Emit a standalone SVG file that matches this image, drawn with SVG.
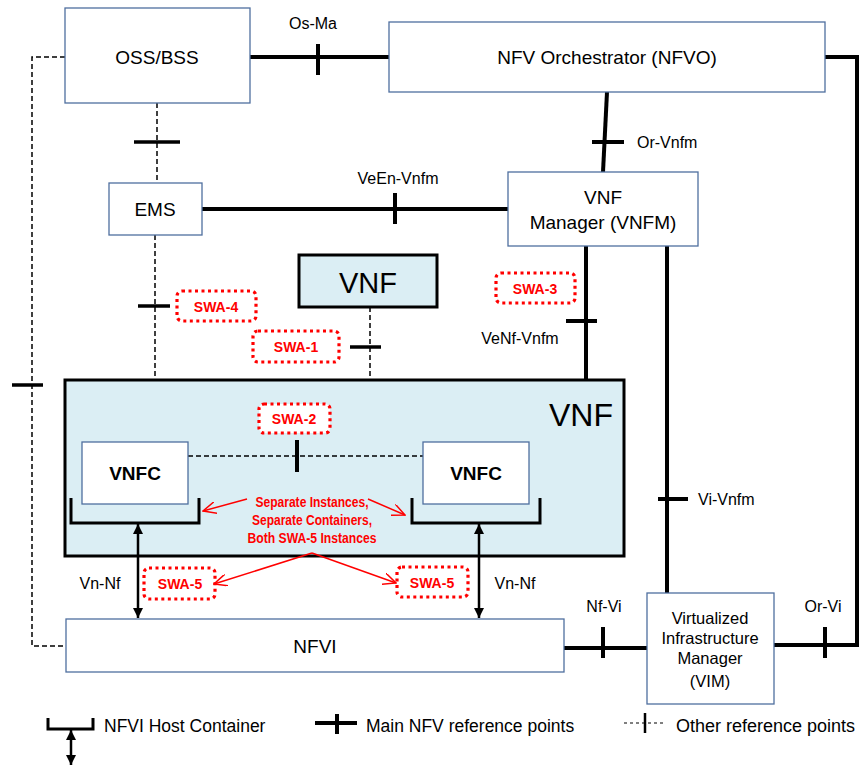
<svg xmlns="http://www.w3.org/2000/svg" width="861" height="766" viewBox="0 0 861 766">
<style>
text{font-family:"Liberation Sans",Arial,sans-serif;fill:#000}
.box{fill:#fff;stroke:#4F6F9F;stroke-width:1.3}
.vnfbox{fill:#DBEEF4;stroke:#000;stroke-width:3}
.main{stroke:#000;stroke-width:4;fill:none}
.tick{stroke:#000;stroke-width:4}
.dash{stroke:#000;stroke-width:1.5;stroke-dasharray:5 3;fill:none}
.swa{fill:#fff;stroke:#FF0000;stroke-width:3.2;stroke-dasharray:3 3.5}
.swat{fill:#FF0000;font-weight:bold;font-size:14px;text-anchor:middle}
.lbl{font-size:16px}
.red{stroke:#FF0000;stroke-width:1.5;fill:none}
.bracket{stroke:#000;stroke-width:3;fill:none}
.arr{stroke:#000;stroke-width:2.5}
</style>
<defs>
<marker id="ah" viewBox="0 0 10 10" refX="10" refY="5" markerWidth="4" markerHeight="4" orient="auto-start-reverse" markerUnits="strokeWidth">
<path d="M0,0 L10,5 L0,10 z" fill="#000"/>
</marker>
<marker id="rh" viewBox="0 0 14 12" refX="13" refY="6" markerWidth="14" markerHeight="12" orient="auto" markerUnits="userSpaceOnUse">
<path d="M0,0 L13,6 L0,12" fill="none" stroke="#FF0000" stroke-width="1.5"/>
</marker>
</defs>

<g id="connectors">
<line class="main" x1="250" y1="57" x2="389" y2="57"/>
<line class="tick" x1="318" y1="44" x2="318" y2="75"/>
<line class="main" x1="607" y1="92" x2="603" y2="172"/>
<line class="tick" x1="592" y1="142" x2="624" y2="142"/>
<line class="main" x1="202" y1="209" x2="508" y2="209"/>
<line class="tick" x1="395" y1="193" x2="395" y2="224"/>
<path class="main" d="M825,57 H857 V645 H774"/>
<line class="tick" x1="825" y1="627" x2="825" y2="658"/>
<line class="main" x1="586" y1="246" x2="586" y2="380"/>
<line class="tick" x1="566" y1="321" x2="597" y2="321"/>
<line class="main" x1="667" y1="246" x2="667" y2="593"/>
<line class="tick" x1="658" y1="499" x2="688" y2="499"/>
<line class="main" x1="564" y1="648" x2="647" y2="648"/>
<line class="tick" x1="603" y1="627" x2="603" y2="658"/>
<line class="dash" x1="157" y1="103" x2="157" y2="183"/>
<line class="tick" x1="134" y1="142" x2="180" y2="142" style="stroke-width:3.5"/>
<line class="dash" x1="155" y1="235" x2="155" y2="380"/>
<line class="tick" x1="138" y1="306" x2="170" y2="306" style="stroke-width:3.5"/>
<path class="dash" d="M65,57 H32 V646 H66"/>
<line class="tick" x1="12" y1="385" x2="43" y2="385" style="stroke-width:3.5"/>
<line class="dash" x1="370" y1="307" x2="370" y2="380"/>
<line class="tick" x1="350" y1="347" x2="381" y2="347" style="stroke-width:3.5"/>
</g>

<g id="oss"><rect class="box" x="65" y="8" width="185" height="95"/><text x="157" y="64" font-size="19" text-anchor="middle">OSS/BSS</text></g>
<g id="nfvo"><rect class="box" x="389" y="22" width="436" height="70"/><text x="607" y="64" font-size="19" text-anchor="middle">NFV Orchestrator (NFVO)</text></g>
<g id="ems"><rect class="box" x="109" y="183" width="93" height="52"/><text x="155" y="216" font-size="19" text-anchor="middle">EMS</text></g>
<g id="vnfm"><rect class="box" x="508" y="172" width="190" height="74"/><text x="603" y="204" font-size="19" text-anchor="middle">VNF</text><text x="603" y="229" font-size="19" text-anchor="middle">Manager (VNFM)</text></g>
<g id="vnf-top"><rect class="vnfbox" x="299" y="255" width="138" height="52"/><text x="368" y="293" font-size="29" text-anchor="middle">VNF</text></g>

<g id="vnf-main">
<rect class="vnfbox" x="65" y="380" width="559" height="176"/>
<text x="613" y="426" font-size="32" text-anchor="end">VNF</text>
<line class="dash" x1="188" y1="456" x2="423" y2="456"/>
<line class="tick" x1="297" y1="440" x2="297" y2="472"/>
</g>
<g id="vnfc1"><rect class="box" x="82" y="442" width="106" height="62"/><text x="135" y="480" font-size="19" font-weight="bold" text-anchor="middle">VNFC</text><path class="bracket" d="M71,498 V523 H199 V498"/></g>
<g id="vnfc2"><rect class="box" x="423" y="442" width="106" height="62"/><text x="476" y="480" font-size="19" font-weight="bold" text-anchor="middle">VNFC</text><path class="bracket" d="M412,498 V523 H540 V498"/></g>

<g id="nfvi"><rect class="box" x="66" y="619" width="498" height="53"/><text x="315" y="653" font-size="19" text-anchor="middle">NFVI</text></g>
<g id="vim"><rect class="box" x="647" y="593" width="127" height="111"/>
<text x="710" y="624" font-size="16.5" text-anchor="middle">Virtualized</text>
<text x="710" y="644" font-size="16.5" text-anchor="middle">Infrastructure</text>
<text x="710" y="664" font-size="16.5" text-anchor="middle">Manager</text>
<text x="710" y="687" font-size="16.5" text-anchor="middle">(VIM)</text></g>

<g id="vn-nf-arrows">
<line class="arr" x1="138" y1="524" x2="138" y2="618" marker-start="url(#ah)" marker-end="url(#ah)"/>
<line class="arr" x1="479" y1="524" x2="479" y2="618" marker-start="url(#ah)" marker-end="url(#ah)"/>
</g>

<g id="labels">
<text class="lbl" x="313" y="29" text-anchor="middle">Os-Ma</text>
<text class="lbl" x="637" y="148">Or-Vnfm</text>
<text class="lbl" x="398" y="184" text-anchor="middle">VeEn-Vnfm</text>
<text class="lbl" x="520" y="344" text-anchor="middle">VeNf-Vnfm</text>
<text class="lbl" x="698" y="505">Vi-Vnfm</text>
<text class="lbl" x="100" y="589" text-anchor="middle">Vn-Nf</text>
<text class="lbl" x="515" y="589" text-anchor="middle">Vn-Nf</text>
<text class="lbl" x="604" y="612" text-anchor="middle">Nf-Vi</text>
<text class="lbl" x="823" y="612" text-anchor="middle">Or-Vi</text>
</g>

<g id="swa">
<rect class="swa" x="177" y="291" width="79" height="30" rx="5"/><text class="swat" x="216" y="312">SWA-4</text>
<rect class="swa" x="253" y="331" width="86" height="31" rx="5"/><text class="swat" x="296" y="352">SWA-1</text>
<rect class="swa" x="259" y="404" width="71" height="29" rx="5"/><text class="swat" x="294" y="424">SWA-2</text>
<rect class="swa" x="496" y="273" width="79" height="30" rx="5"/><text class="swat" x="535" y="294">SWA-3</text>
<rect class="swa" x="144" y="568" width="71" height="31" rx="5"/><text class="swat" x="180" y="589">SWA-5</text>
<rect class="swa" x="397" y="567" width="71" height="30" rx="5"/><text class="swat" x="432" y="588">SWA-5</text>
</g>

<g id="note">
<text x="312" y="507" style="fill:#FF0000" font-size="14" font-weight="bold" text-anchor="middle" textLength="113" lengthAdjust="spacingAndGlyphs">Separate Instances,</text>
<text x="312" y="525" style="fill:#FF0000" font-size="14" font-weight="bold" text-anchor="middle" textLength="120" lengthAdjust="spacingAndGlyphs">Separate Containers,</text>
<text x="312" y="543" style="fill:#FF0000" font-size="14" font-weight="bold" text-anchor="middle" textLength="129" lengthAdjust="spacingAndGlyphs">Both SWA-5 Instances</text>
<line class="red" x1="247" y1="499" x2="203" y2="511" marker-end="url(#rh)"/>
<line class="red" x1="368" y1="499" x2="405" y2="515" marker-end="url(#rh)"/>
<line class="red" x1="312" y1="553" x2="214" y2="584" marker-end="url(#rh)"/>
<line class="red" x1="312" y1="553" x2="396" y2="583" marker-end="url(#rh)"/>
</g>

<g id="legend">
<path class="bracket" d="M48,718 V729 H93 V718"/>
<line class="arr" x1="71" y1="730" x2="71" y2="765" marker-start="url(#ah)" marker-end="url(#ah)"/>
<text x="104" y="732" font-size="17.5">NFVI Host Container</text>
<line class="tick" x1="315" y1="723" x2="357" y2="723"/>
<line class="tick" x1="337" y1="714" x2="337" y2="734"/>
<text x="366" y="732" font-size="17.5">Main NFV reference points</text>
<line class="dash" x1="624" y1="723" x2="665" y2="723" style="stroke-dasharray:3 3;stroke-width:1.2"/>
<line x1="645" y1="713" x2="645" y2="733" stroke="#000" stroke-width="2.5"/>
<text x="676" y="732" font-size="18">Other reference points</text>
</g>
</svg>
